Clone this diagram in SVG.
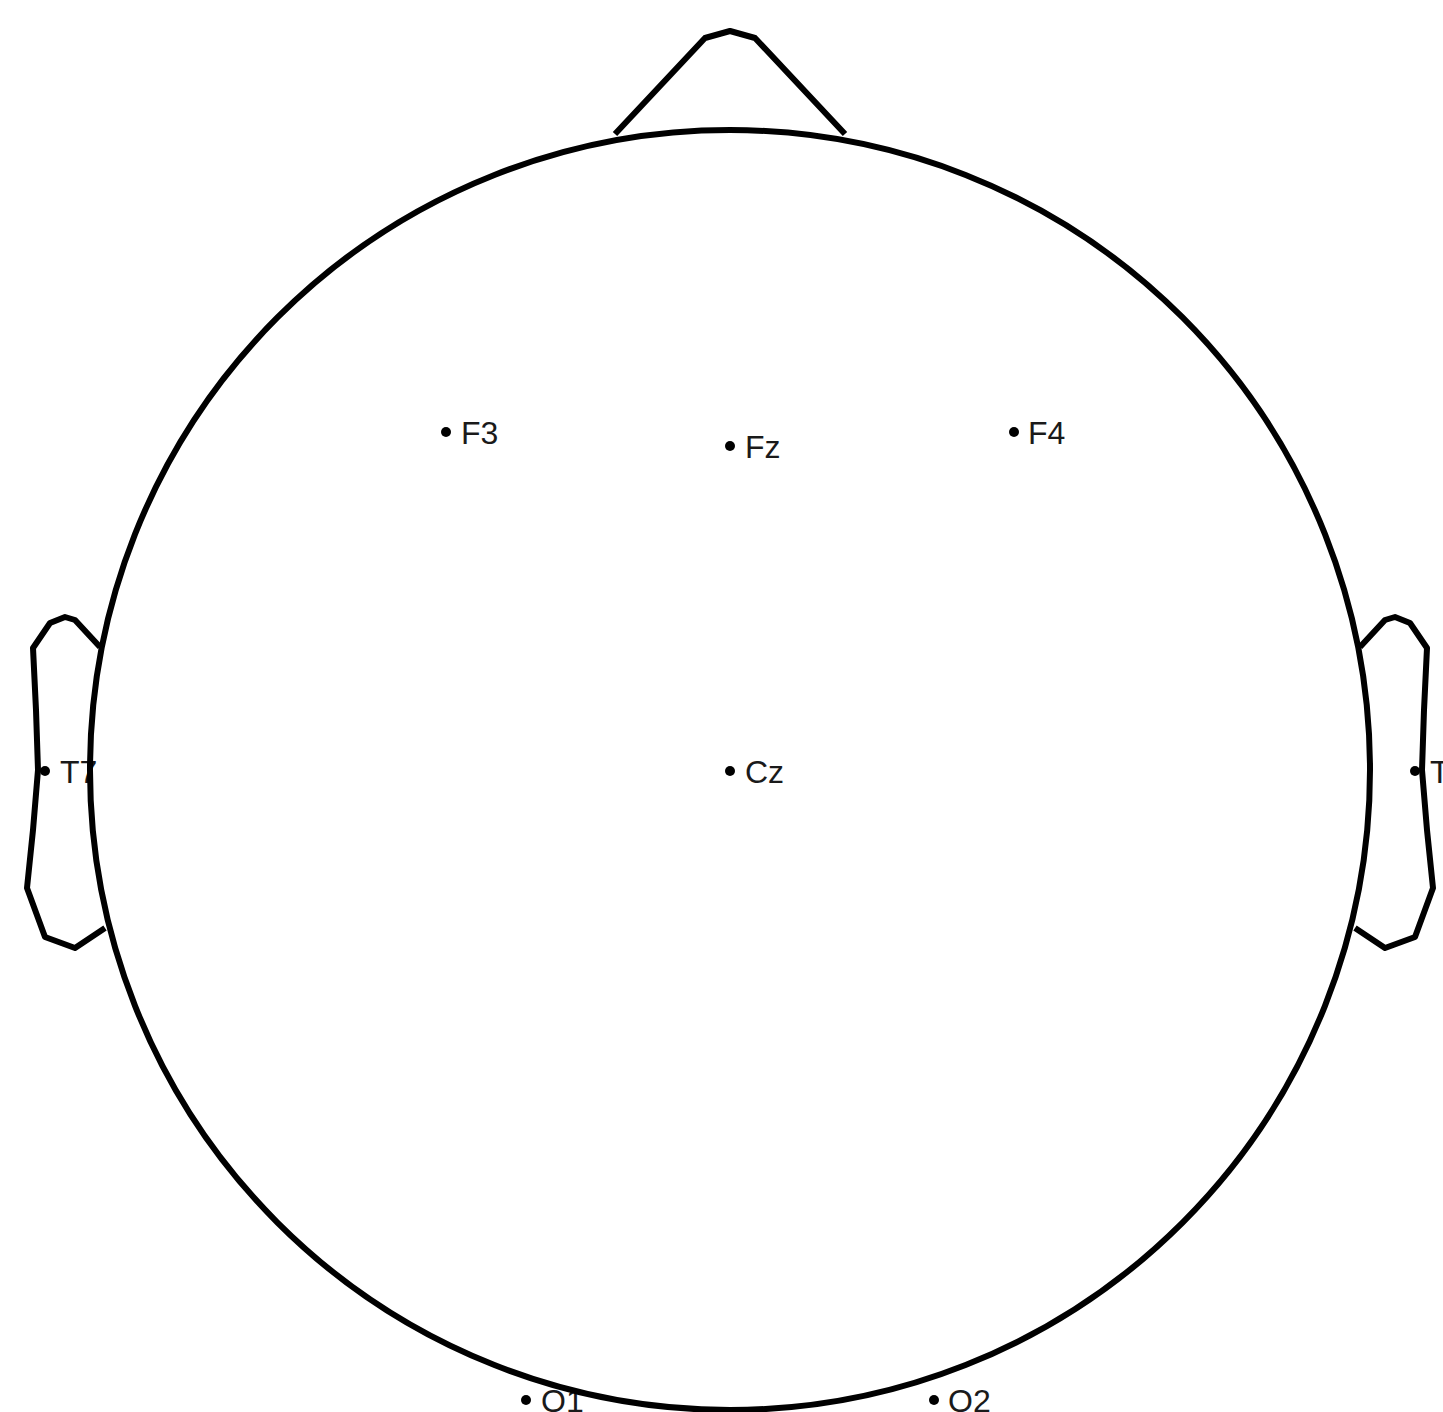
<svg xmlns="http://www.w3.org/2000/svg" width="1443" height="1412" viewBox="0 0 1443 1412">
<style>
.outline{fill:none;stroke:#000;stroke-width:6;stroke-linejoin:round;stroke-linecap:butt}
.dot{fill:#000}
.lbl{font-family:"Liberation Sans",Arial,sans-serif;font-size:32px;fill:#1a1a1a}
</style>
<rect width="1443" height="1412" fill="#fff"/>
<g id="sensors">
<g id="F3"><circle class="dot" cx="446" cy="432" r="5"/><text class="lbl" x="461" y="443.5">F3</text></g>
<g id="Fz"><circle class="dot" cx="730" cy="446" r="5"/><text class="lbl" x="745" y="457.5">Fz</text></g>
<g id="F4"><circle class="dot" cx="1014" cy="432" r="5"/><text class="lbl" x="1028" y="443.5">F4</text></g>
<g id="T7"><circle class="dot" cx="45" cy="771" r="5"/><text class="lbl" x="60" y="782.5">T7</text></g>
<g id="Cz"><circle class="dot" cx="730" cy="771" r="5"/><text class="lbl" x="745" y="782.5">Cz</text></g>
<g id="T8"><circle class="dot" cx="1415" cy="771" r="5"/><text class="lbl" x="1430" y="782.5">T8</text></g>
<g id="O1"><circle class="dot" cx="526" cy="1400" r="5"/><text class="lbl" x="541" y="1411.5">O1</text></g>
<g id="O2"><circle class="dot" cx="934" cy="1400" r="5"/><text class="lbl" x="948" y="1411.5">O2</text></g>
</g>
<g id="head">
<circle class="outline" cx="730" cy="770" r="640"/>
<polyline id="nose" class="outline" points="615,134 705,38 730,31 755,38 845,134"/>
<polyline id="ear-left" class="outline" points="100,647 75,620 65,617 50,623 33,648 36,710 38,770 33,830 27,888 45,937 75,948 105,928"/>
<polyline id="ear-right" class="outline" points="1360,647 1385,620 1395,617 1410,623 1427,648 1424,710 1422,770 1427,830 1433,888 1415,937 1385,948 1355,928"/>
</g>
</svg>
